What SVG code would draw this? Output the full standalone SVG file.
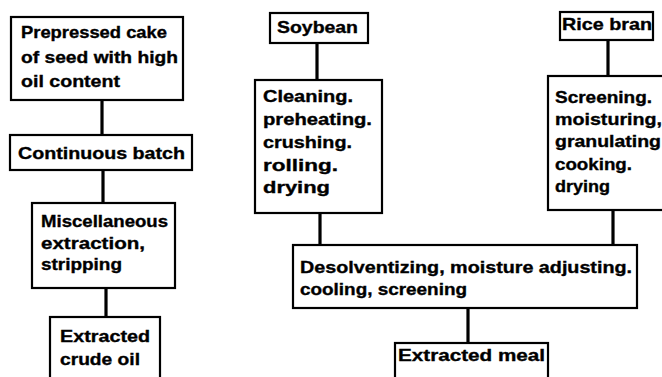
<svg xmlns="http://www.w3.org/2000/svg" width="662" height="377" viewBox="0 0 662 377">
<style>
.box{fill:#fff;stroke:#000;stroke-width:2.2}
.t{font-family:"Liberation Sans",Arial,sans-serif;font-weight:bold;font-size:16.5px;fill:#000;stroke:#000;stroke-width:0.35}
.c{stroke:#000;stroke-width:3.2;fill:none}
</style>
<rect width="662" height="377" fill="#fff"/>
<g id="connectors">
<line class="c" x1="102" y1="100" x2="102" y2="135"/>
<line class="c" x1="103" y1="170" x2="103" y2="203"/>
<line class="c" x1="106" y1="288" x2="106" y2="317"/>
<line class="c" x1="317" y1="43" x2="317" y2="80"/>
<line class="c" x1="608" y1="40" x2="608" y2="76"/>
<line class="c" x1="320" y1="213" x2="320" y2="245"/>
<line class="c" x1="613" y1="210" x2="613" y2="245"/>
<line class="c" x1="468" y1="308" x2="468" y2="343"/>
</g>
<g id="prepressed">
<rect class="box" x="11" y="17" width="172" height="83"/>
<text class="t" x="21" y="38" textLength="146" lengthAdjust="spacingAndGlyphs">Prepressed cake</text>
<text class="t" x="21" y="63" textLength="157" lengthAdjust="spacingAndGlyphs">of seed with high</text>
<text class="t" x="21" y="87" textLength="99" lengthAdjust="spacingAndGlyphs">oil content</text>
</g>
<g id="continuous">
<rect class="box" x="10" y="135" width="182" height="35"/>
<text class="t" x="18" y="159" textLength="167" lengthAdjust="spacingAndGlyphs">Continuous batch</text>
</g>
<g id="misc">
<rect class="box" x="32" y="203" width="143" height="85"/>
<text class="t" x="41" y="227" textLength="127" lengthAdjust="spacingAndGlyphs">Miscellaneous</text>
<text class="t" x="41" y="249" textLength="104" lengthAdjust="spacingAndGlyphs">extraction,</text>
<text class="t" x="41" y="270" textLength="81" lengthAdjust="spacingAndGlyphs">stripping</text>
</g>
<g id="crude">
<rect class="box" x="50" y="317" width="110" height="70"/>
<text class="t" x="60" y="342" textLength="90" lengthAdjust="spacingAndGlyphs">Extracted</text>
<text class="t" x="60" y="365" textLength="80" lengthAdjust="spacingAndGlyphs">crude oil</text>
</g>
<g id="soybean">
<rect class="box" x="270" y="13" width="98" height="30"/>
<text class="t" x="277" y="33" textLength="81" lengthAdjust="spacingAndGlyphs">Soybean</text>
</g>
<g id="cleaning">
<rect class="box" x="255" y="80" width="127" height="133"/>
<text class="t" x="263" y="102" textLength="90" lengthAdjust="spacingAndGlyphs">Cleaning.</text>
<text class="t" x="263" y="125" textLength="109" lengthAdjust="spacingAndGlyphs">preheating.</text>
<text class="t" x="263" y="148" textLength="89" lengthAdjust="spacingAndGlyphs">crushing.</text>
<text class="t" x="263" y="171" textLength="75" lengthAdjust="spacingAndGlyphs">rolling.</text>
<text class="t" x="263" y="193" textLength="67" lengthAdjust="spacingAndGlyphs">drying</text>
</g>
<g id="ricebran">
<rect class="box" x="560" y="12" width="93" height="28"/>
<text class="t" x="562" y="30" textLength="90" lengthAdjust="spacingAndGlyphs">Rice bran</text>
</g>
<g id="screening">
<rect class="box" x="548" y="76" width="124" height="134"/>
<text class="t" x="555" y="103" textLength="97" lengthAdjust="spacingAndGlyphs">Screening.</text>
<text class="t" x="555" y="125" textLength="107" lengthAdjust="spacingAndGlyphs">moisturing,</text>
<text class="t" x="555" y="147" textLength="106" lengthAdjust="spacingAndGlyphs">granulating</text>
<text class="t" x="555" y="170" textLength="77" lengthAdjust="spacingAndGlyphs">cooking.</text>
<text class="t" x="555" y="192" textLength="55" lengthAdjust="spacingAndGlyphs">drying</text>
</g>
<g id="desolventizing">
<rect class="box" x="293" y="245" width="344" height="63"/>
<text class="t" x="300" y="273" textLength="332" lengthAdjust="spacingAndGlyphs">Desolventizing, moisture adjusting.</text>
<text class="t" x="300" y="295" textLength="167" lengthAdjust="spacingAndGlyphs">cooling, screening</text>
</g>
<g id="meal">
<rect class="box" x="395" y="343" width="153" height="44"/>
<text class="t" x="398" y="361" textLength="147" lengthAdjust="spacingAndGlyphs">Extracted meal</text>
</g>
</svg>
